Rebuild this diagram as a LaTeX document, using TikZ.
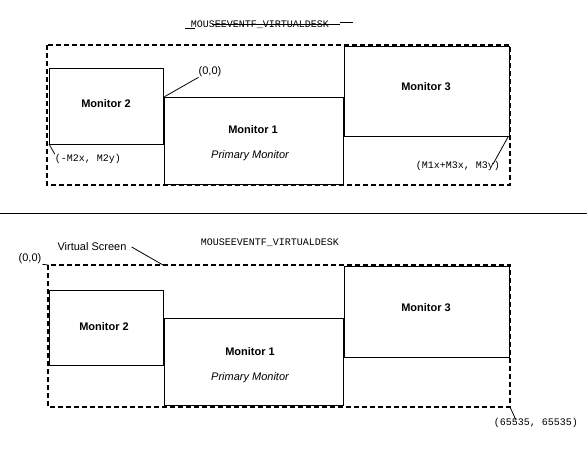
\documentclass[tikz,border=0pt]{standalone}
\usepackage{fontspec}
\setmainfont{Liberation Sans}
\setmonofont{Liberation Mono}
\begin{document}
\begin{tikzpicture}[x=1pt,y=-1pt,
  frame/.style={draw,line width=2pt,dash pattern=on 5pt off 3pt},
  monbox/.style={draw,line width=1pt},
  title/.style={font=\bfseries\fontsize{11}{13}\selectfont,inner sep=0pt},
  sub/.style={font=\itshape\fontsize{11}{13}\selectfont,inner sep=0pt},
  mono/.style={font=\ttfamily\fontsize{10}{12}\selectfont,inner sep=0pt},
  lbl/.style={font=\fontsize{11}{13}\selectfont,inner sep=0pt},
  lead/.style={draw,line width=0.8pt},
  strike/.style={draw,line width=1pt}]
\useasboundingbox (0,0) rectangle (587,450);

% ---------- top panel ----------
\node[mono] (t1) at (260,25) {MOUSEEVENTF\_VIRTUALDESK};
\draw[strike] (212,24) -- (340,24);
\draw[strike] (340,22.5) -- (353,22.5);
\draw[strike] (185,28) -- (195,28);

\draw[monbox] (49,68) rectangle (163,144);
\draw[monbox] (164,97) rectangle (343,184);
\draw[monbox] (344,46) rectangle (509,136);
\draw[frame] (47,45) rectangle (510,185);

\node[title] (a2) at (106,104) {Monitor 2};
\node[title] (a1) at (253,130) {Monitor 1};
\node[sub] (a1s) at (250,156) {Primary Monitor};
\node[title] (a3) at (426,87) {Monitor 3};

\coordinate (c1) at (164,97);
\coordinate (c2) at (49,144);
\coordinate (c3) at (508,137);
\node[lbl] (z1) at (210,72) {(0,0)};
\node[mono] (n2) at (88,159) {(-M2x,~M2y)};
\node[mono] (n3) at (458,166) {(M1x+M3x,~M3y)};
\draw[lead] (c1) -- (z1.south west);
\draw[lead] (c2) -- (n2.north west);
\draw[lead] (c3) -- ([xshift=35pt,yshift=-3pt]n3.north);

% separator
\coordinate (sl) at (0,213);
\coordinate (sr) at (587,213);
\draw[line width=1pt] (sl) -- (sr);

% ---------- bottom panel ----------
\draw[monbox] (49,290) rectangle (163,365);
\draw[monbox] (164,318) rectangle (343,405);
\draw[monbox] (344,266) rectangle (509,357);
\draw[frame] (48,265) rectangle (510,407);

\node[title] (b2) at (104,327) {Monitor 2};
\node[title] (b1) at (250,352) {Monitor 1};
\node[sub] (b1s) at (250,378) {Primary Monitor};
\node[title] (b3) at (426,308) {Monitor 3};

\node[mono] (t2) at (270,243) {MOUSEEVENTF\_VIRTUALDESK};
\node[lbl] (z2) at (30,259) {(0,0)};
\node[lbl] (vs) at (92,247) {Virtual Screen};
\node[mono] (big) at (536,423) {(65535,~65535)};
\coordinate (d1) at (48,265);
\coordinate (d2) at (163,265);
\coordinate (d3) at (510,407);
\draw[lead] (d1) -- ([xshift=1pt]z2.south east);
\draw[lead] (d2) -- ([xshift=5pt]vs.east);
\draw[lead] (d3) -- ([xshift=-20pt,yshift=-2pt]big.north);
\end{tikzpicture}
\end{document}
